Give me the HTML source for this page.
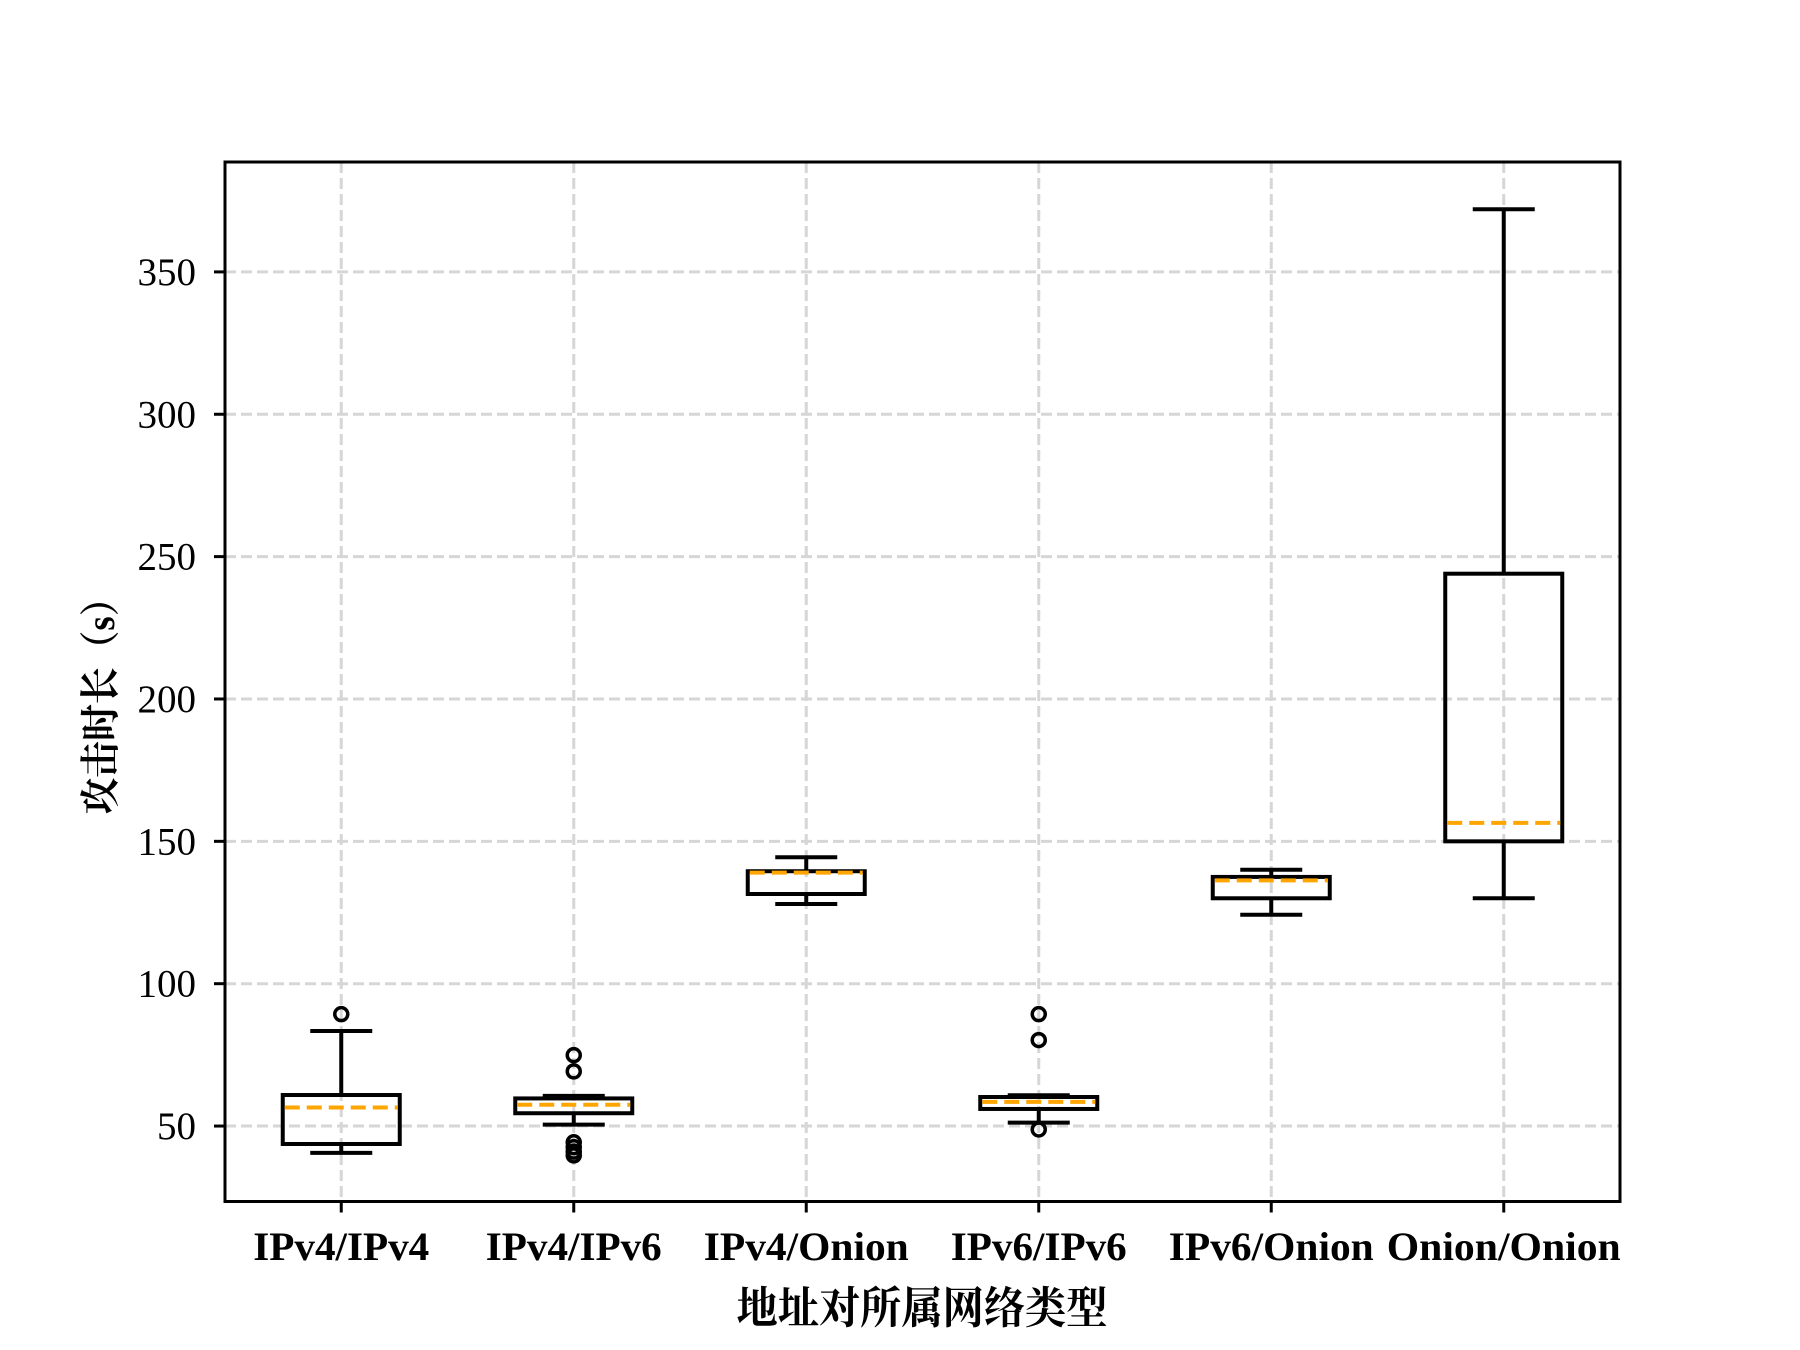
<!DOCTYPE html>
<html><head><meta charset="utf-8"><style>
html,body{margin:0;padding:0;background:#fff;}
svg{display:block;}
</style></head><body>
<svg id="chart" width="1800" height="1350" viewBox="0 0 1800 1350" xmlns="http://www.w3.org/2000/svg">
<rect x="0" y="0" width="1800" height="1350" fill="#fff"/>
<g id="grid"></g>
<g id="boxes"></g>
<rect x="225" y="162" width="1395" height="1039.5" fill="none" stroke="#000" stroke-width="3"/>
<g id="axes"></g>
<text x="922" y="1323" text-anchor="middle" font-family="'Liberation Serif','Noto Serif CJK SC',serif" font-weight="bold" font-size="44" textLength="371" lengthAdjust="spacingAndGlyphs">地址对所属网络类型</text>
<text transform="translate(114,697) rotate(-90)" text-anchor="middle" font-family="'Liberation Serif','Noto Serif CJK SC',serif" font-weight="bold" font-size="40" textLength="235" lengthAdjust="spacingAndGlyphs">攻击时长（s）</text>
</svg>
<script>
const categories = ["IPv4/IPv4","IPv4/IPv6","IPv4/Onion","IPv6/IPv6","IPv6/Onion","Onion/Onion"];
const whiskerLow = [40.6, 50.5, 128, 51.2, 124.2, 130];
const q1 = [43.7, 54.5, 131.5, 56, 130, 150];
const median = [56.5, 57.5, 139, 58.5, 136.3, 156.5];
const q3 = [60.9, 59.7, 139.5, 60.2, 137.5, 244];
const whiskerHigh = [83.4, 60.6, 144.4, 60.8, 140, 372];
const outliers = [[89.3], [74.9, 69.2, 44.3, 42.6, 41, 39.7], [], [89.3, 80.2, 48.8], [], []];
const yTicks = [50, 100, 150, 200, 250, 300, 350];
const labelWidths = [176, 176, 205, 176, 205, 234];

const NS = "http://www.w3.org/2000/svg";
const L = 225, R = 1620, T = 162, B = 1201.5;
const yMin = 23.5, yMax = 388.6;
const xMin = 0.5, xMax = 6.5;
function xs(i){ return L + (i + 1 - xMin) / (xMax - xMin) * (R - L); }
function ys(v){ return B - (v - yMin) / (yMax - yMin) * (B - T); }
function mk(parent, tag, attrs){
  const el = document.createElementNS(NS, tag);
  for (const k in attrs) el.setAttribute(k, attrs[k]);
  parent.appendChild(el);
  return el;
}
const grid = document.getElementById('grid');
const boxes = document.getElementById('boxes');
const axes = document.getElementById('axes');
const gridStyle = {stroke:'#d6d6d6','stroke-width':3,'stroke-dasharray':'11 5'};

yTicks.forEach(t => {
  const y = ys(t);
  const g = mk(grid, 'line', Object.assign({x1:L, x2:R, y1:y, y2:y}, gridStyle));
  
  
  const tk = mk(axes, 'line', {x1:L-11, x2:L, y1:y, y2:y, stroke:'#000','stroke-width':3});
  
  
  const tx = mk(axes, 'text', {x:196, y:y+13, 'text-anchor':'end','font-family':"'Liberation Serif',serif",'font-size':39});
  tx.textContent = t;
  
  
});

categories.forEach((c, i) => {
  const x = xs(i);
  const g = mk(grid, 'line', Object.assign({x1:x, x2:x, y1:T, y2:B}, gridStyle));
  
  
  const tk = mk(axes, 'line', {x1:x, x2:x, y1:B, y2:B+11, stroke:'#000','stroke-width':3});
  
  
  const tx = mk(axes, 'text', {x:x, y:1260, 'text-anchor':'middle','font-family':"'Liberation Serif',serif",'font-size':40,'font-weight':'bold', textLength:labelWidths[i], lengthAdjust:'spacingAndGlyphs'});
  tx.textContent = c;
  
  

  const hw = 58.5, cw = 31;
  const grp = mk(boxes, 'g', {});
  
  
  const ln = {stroke:'#000','stroke-width':4, fill:'none'};
  const w1 = mk(grp, 'line', Object.assign({x1:x, x2:x, y1:ys(q1[i]), y2:ys(whiskerLow[i])}, ln));
  
  
  const w2 = mk(grp, 'line', Object.assign({x1:x, x2:x, y1:ys(q3[i]), y2:ys(whiskerHigh[i])}, ln));
  
  
  const c1 = mk(grp, 'line', Object.assign({x1:x-cw, x2:x+cw, y1:ys(whiskerLow[i]), y2:ys(whiskerLow[i])}, ln));
  
  
  const c2 = mk(grp, 'line', Object.assign({x1:x-cw, x2:x+cw, y1:ys(whiskerHigh[i]), y2:ys(whiskerHigh[i])}, ln));
  
  
  const bx = mk(grp, 'rect', Object.assign({x:x-hw, y:ys(q3[i]), width:2*hw, height:ys(q1[i]) - ys(q3[i])}, ln));
  
  
  const md = mk(grp, 'line', {x1:x-hw+2, x2:x+hw-2, y1:ys(median[i]), y2:ys(median[i]), stroke:'#ffa500','stroke-width':4,'stroke-dasharray':'15 7'});
  
  
  outliers[i].forEach(v => {
    const o = mk(grp, 'circle', {cx:x, cy:ys(v), r:6.5, fill:'none', stroke:'#000','stroke-width':3.5});
    
    
  });
});
</script>
</body></html>
